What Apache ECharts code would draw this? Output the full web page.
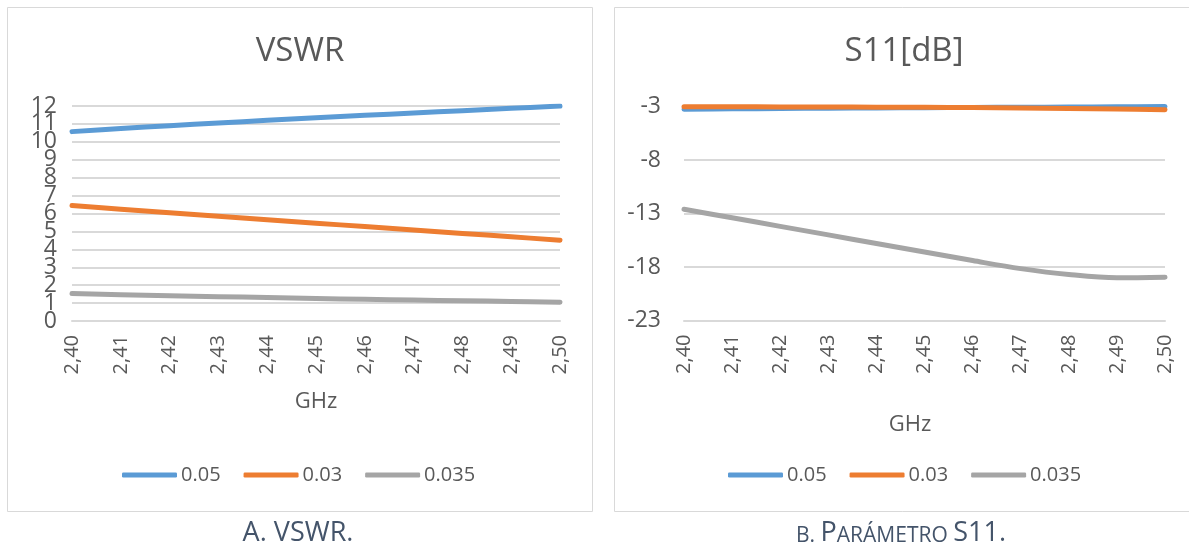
<!DOCTYPE html>
<html>
<head>
<meta charset="utf-8">
<script src="https://cdn.jsdelivr.net/npm/echarts@6/dist/echarts.min.js"></script>
<style>
html,body{margin:0;padding:0;background:#fff;}
#c{width:1189px;height:547px;}
</style>
</head>
<body>
<div id="c"></div>
<script>
// Categories (GHz)
const freqLabels = ['2,40','2,41','2,42','2,43','2,44','2,45','2,46','2,47','2,48','2,49','2,50'];
const seriesNames = ['0.05','0.03','0.035'];

// VSWR values
const vswr005  = [10.57, 10.74, 10.90, 11.05, 11.20, 11.34, 11.48, 11.61, 11.74, 11.87, 12.00];
const vswr003  = [6.45, 6.24, 6.04, 5.84, 5.65, 5.46, 5.27, 5.08, 4.89, 4.70, 4.51];
const vswr0035 = [1.53, 1.47, 1.41, 1.36, 1.31, 1.26, 1.21, 1.17, 1.13, 1.09, 1.05];

// S11 [dB] values
const s11005  = [-3.25, -3.22, -3.19, -3.16, -3.13, -3.11, -3.09, -3.07, -3.05, -3.03, -3.00];
const s11003  = [-3.03, -3.03, -3.04, -3.05, -3.06, -3.08, -3.10, -3.14, -3.19, -3.24, -3.30];
const s110035 = [-12.6, -13.4, -14.2, -15.0, -15.8, -16.6, -17.4, -18.15, -18.7, -19.0, -18.95];

// Axis ranges
const vswrAxis = {min: 0, max: 12, interval: 1};
const s11Axis = {min: -23, max: -3, interval: 5};

const COLORS = ['#5b9bd5', '#ed7d31', '#a5a5a5'];
const FONT = 'Open Sans';
const TXT = '#595959';
const GRID_LINE = {color: '#d9d9d9', width: 2};

const chart = echarts.init(document.getElementById('c'), null, {renderer: 'canvas'});

function xAxisCfg(gridIndex, nameGap, padRight) {
  return {
    type: 'category', gridIndex: gridIndex, data: freqLabels, boundaryGap: false,
    axisLine: {show: true, onZero: false, lineStyle: GRID_LINE}, axisTick: {show: false},
    axisLabel: {rotate: 90, interval: 0, margin: 14, fontSize: 20, fontFamily: FONT, color: TXT},
    name: 'GHz', nameLocation: 'middle', nameGap: nameGap,
    nameTextStyle: {fontSize: 22, fontFamily: FONT, color: TXT, padding: [0, padRight, 0, 0]}
  };
}
function yAxisCfg(gridIndex, rng, margin, extra) {
  return Object.assign({
    type: 'value', gridIndex: gridIndex, min: rng.min, max: rng.max, interval: rng.interval,
    position: 'left',
    axisLine: {show: false}, axisTick: {show: false},
    axisLabel: {margin: margin, fontSize: 23, fontFamily: FONT, color: TXT,
                hideOverlap: false, showMinLabel: true, showMaxLabel: true},
    splitLine: {show: true, showMinLine: true, showMaxLine: true, lineStyle: GRID_LINE}
  }, extra || {});
}
function lineSeries(name, data, idx, xi, yi) {
  return {
    name: name, type: 'line', xAxisIndex: xi, yAxisIndex: yi, data: data,
    smooth: 0.35, showSymbol: false, symbol: 'none',
    lineStyle: {color: COLORS[idx], width: 5, cap: 'round', join: 'round'},
    itemStyle: {color: COLORS[idx]}
  };
}
function legendCfg(left) {
  return {
    data: seriesNames, left: left, top: 465, orient: 'horizontal', padding: 0,
    icon: 'roundRect', itemWidth: 55, itemHeight: 5, itemGap: 23,
    textStyle: {fontSize: 20, fontFamily: FONT, color: TXT, padding: [0, 0, 0, -1]},
    selectedMode: false
  };
}

const labelStyle = {margin: 15, fontSize: 23, fontFamily: FONT, color: TXT, hideOverlap: false};

const option = {
  backgroundColor: '#ffffff',
  animation: false,
  color: COLORS,
  grid: [
    {left: 72, right: 629, top: 106, bottom: 226},
    {left: 684, right: 24, top: 106.5, bottom: 226.5}
  ],
  xAxis: [xAxisCfg(0, 70, 0), xAxisCfg(1, 93, 29)],
  yAxis: [
    // inner VSWR labels (1..11)
    yAxisCfg(0, vswrAxis, 15, {
      axisLabel: Object.assign({showMinLabel: false, showMaxLabel: false}, labelStyle)
    }),
    yAxisCfg(1, s11Axis, 23),
    // end VSWR labels (0 and 12), same scale
    yAxisCfg(0, vswrAxis, 15, {
      splitLine: {show: false},
      axisLabel: Object.assign({showMinLabel: true, showMaxLabel: true,
        formatter: function (v) { return (v === vswrAxis.min || v === vswrAxis.max) ? String(v) : ''; }
      }, labelStyle)
    })
  ],
  legend: [legendCfg(122), legendCfg(728)],
  series: [
    lineSeries(seriesNames[0], vswr005, 0, 0, 0),
    lineSeries(seriesNames[1], vswr003, 1, 0, 0),
    lineSeries(seriesNames[2], vswr0035, 2, 0, 0),
    lineSeries(seriesNames[0], s11005, 0, 1, 1),
    lineSeries(seriesNames[1], s11003, 1, 1, 1),
    lineSeries(seriesNames[2], s110035, 2, 1, 1)
  ],
  graphic: [
    {type: 'rect', z: -10, shape: {x: 7.5, y: 7.5, width: 585, height: 504},
     style: {fill: '#ffffff', stroke: '#d9d9d9', lineWidth: 1}},
    {type: 'rect', z: -10, shape: {x: 614.5, y: 7.5, width: 600, height: 504},
     style: {fill: '#ffffff', stroke: '#d9d9d9', lineWidth: 1}},
    {type: 'text', x: 300, y: 51.5,
     style: {text: 'VSWR', fill: TXT, font: '33px "Open Sans"', textAlign: 'center', textVerticalAlign: 'middle'}},
    {type: 'text', x: 904, y: 51.5,
     style: {text: 'S11[dB]', fill: TXT, font: '33px "Open Sans"', textAlign: 'center', textVerticalAlign: 'middle'}},
    {type: 'text', x: 298, y: 533,
     style: {text: 'A. VSWR.', fill: '#44546a', font: '27px "Open Sans"', textAlign: 'center', textVerticalAlign: 'middle'}},
    {type: 'text', x: 901, y: 533,
     style: {
       text: '{s|B. }{b|P}{s|ARÁMETRO }{b|S11.}',
       textAlign: 'center', textVerticalAlign: 'middle',
       rich: {
         s: {fontSize: 21, fontFamily: FONT, fill: '#44546a', verticalAlign: 'bottom'},
         b: {fontSize: 27, fontFamily: FONT, fill: '#44546a', verticalAlign: 'bottom'}
       }
     }}
  ]
};
chart.setOption(option);
</script>
</body>
</html>
